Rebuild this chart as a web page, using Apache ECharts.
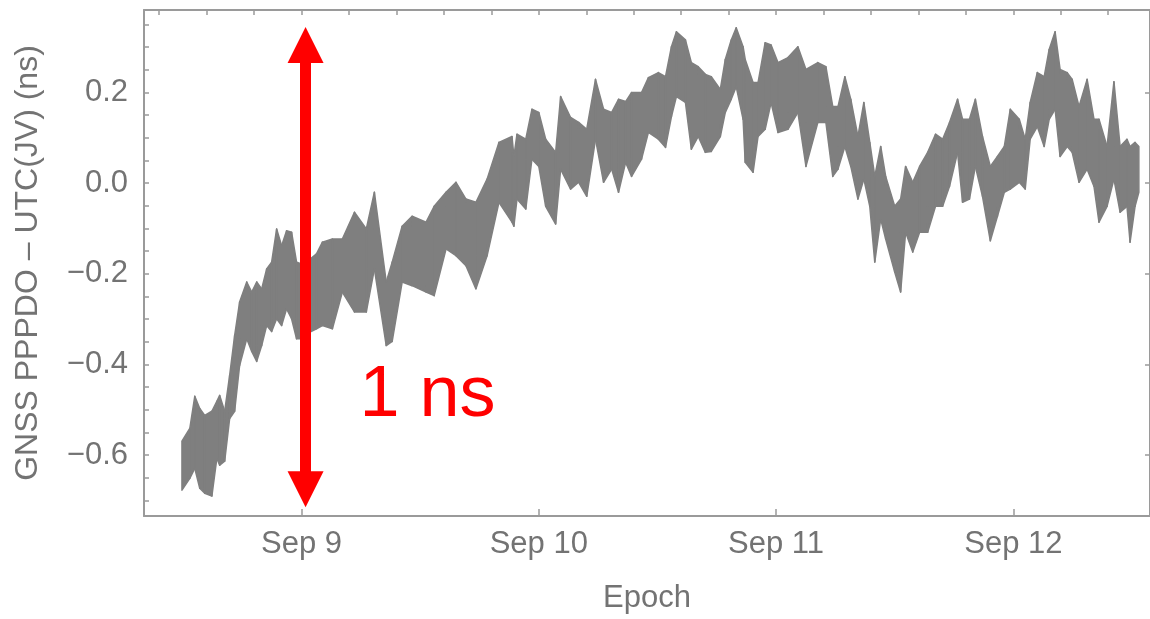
<!DOCTYPE html>
<html>
<head>
<meta charset="utf-8">
<script src="https://cdn.jsdelivr.net/npm/echarts@6/dist/echarts.min.js"></script>
<style>
  html, body { margin: 0; padding: 0; background: #fff; }
  #chart { width: 1150px; height: 619px; }
</style>
</head>
<body>
<div id="chart"></div>
<script>
// epoch in days of September, with the top and bottom of the noisy trace (ns)
const days = [
  8.496, 8.529, 8.550, 8.571, 8.592, 8.622, 8.643, 8.655, 8.676, 8.697,
  8.718, 8.739, 8.769, 8.790, 8.811, 8.832, 8.853, 8.874, 8.895, 8.916,
  8.937, 8.958, 8.979, 9.000, 9.021, 9.063, 9.088, 9.130, 9.172, 9.223,
  9.273, 9.307, 9.357, 9.382, 9.424, 9.466, 9.525, 9.559, 9.609, 9.651,
  9.693, 9.735, 9.782, 9.832, 9.887, 9.895, 9.908, 9.945, 9.971, 10.000,
  10.029, 10.071, 10.092, 10.134, 10.168, 10.202, 10.239, 10.273, 10.307, 10.336,
  10.366, 10.391, 10.433, 10.462, 10.504, 10.534, 10.559, 10.580, 10.618, 10.643,
  10.672, 10.702, 10.727, 10.765, 10.786, 10.811, 10.832, 10.861, 10.870, 10.903,
  10.924, 10.954, 10.979, 11.008, 11.050, 11.092, 11.126, 11.176, 11.210, 11.239,
  11.261, 11.290, 11.315, 11.345, 11.370, 11.395, 11.416, 11.441, 11.462, 11.500,
  11.525, 11.546, 11.576, 11.605, 11.639, 11.672, 11.702, 11.731, 11.765, 11.786,
  11.815, 11.840, 11.870, 11.903, 11.933, 11.962, 11.987, 12.025, 12.050, 12.071,
  12.101, 12.130, 12.151, 12.176, 12.197, 12.227, 12.248, 12.277, 12.311, 12.340,
  12.361, 12.395, 12.424, 12.450, 12.479, 12.492, 12.513, 12.529
]
const upper = [
  -0.569, -0.541, -0.470, -0.497, -0.512, -0.503, -0.481, -0.468, -0.503, -0.424,
  -0.336, -0.262, -0.218, -0.240, -0.218, -0.233, -0.189, -0.174, -0.101, -0.138,
  -0.105, -0.108, -0.174, -0.178, -0.174, -0.156, -0.130, -0.123, -0.123, -0.064,
  -0.101, -0.020, -0.218, -0.174, -0.095, -0.073, -0.086, -0.051, -0.020, 0.002,
  -0.035, -0.042, 0.009, 0.090, 0.103, 0.059, 0.108, 0.097, 0.163, 0.156,
  0.097, 0.068, 0.191, 0.145, 0.134, 0.119, 0.229, 0.163, 0.156, 0.185,
  0.180, 0.200, 0.200, 0.233, 0.244, 0.235, 0.301, 0.334, 0.316, 0.266,
  0.257, 0.240, 0.235, 0.207, 0.273, 0.316, 0.343, 0.301, 0.273, 0.222,
  0.222, 0.310, 0.305, 0.266, 0.277, 0.301, 0.251, 0.266, 0.257, 0.169,
  0.169, 0.235, 0.185, 0.103, 0.178, 0.090, 0.015, 0.081, 0.015, -0.051,
  -0.035, 0.037, 0.002, 0.037, 0.068, 0.108, 0.097, 0.134, 0.185, 0.141,
  0.141, 0.185, 0.103, 0.037, 0.059, 0.081, 0.163, 0.141, 0.097, 0.178,
  0.244, 0.235, 0.295, 0.334, 0.251, 0.244, 0.229, 0.169, 0.229, 0.141,
  0.141, 0.081, 0.224, 0.081, 0.097, 0.081, 0.090, 0.081
]
const lower = [
  -0.677, -0.651, -0.629, -0.673, -0.684, -0.690, -0.607, -0.622, -0.613, -0.519,
  -0.503, -0.402, -0.343, -0.371, -0.393, -0.358, -0.314, -0.327, -0.299, -0.314,
  -0.277, -0.299, -0.343, -0.343, -0.332, -0.321, -0.314, -0.321, -0.240, -0.284,
  -0.284, -0.189, -0.358, -0.349, -0.218, -0.226, -0.240, -0.248, -0.145, -0.160,
  -0.182, -0.233, -0.160, -0.042, -0.086, -0.095, -0.035, -0.057, 0.053, 0.037,
  -0.051, -0.090, 0.031, -0.013, 0.002, -0.029, 0.097, 0.002, 0.031, -0.020,
  0.046, 0.015, 0.053, 0.112, 0.097, 0.079, 0.147, 0.191, 0.178, 0.075,
  0.103, 0.068, 0.070, 0.103, 0.156, 0.185, 0.213, 0.141, 0.046, 0.024,
  0.103, 0.119, 0.178, 0.112, 0.119, 0.156, 0.037, 0.134, 0.134, 0.015,
  0.031, 0.081, 0.037, -0.035, 0.009, -0.051, -0.174, -0.079, -0.123, -0.196,
  -0.240, -0.108, -0.152, -0.108, -0.108, -0.051, -0.051, -0.007, 0.068, -0.042,
  -0.035, 0.037, -0.029, -0.127, -0.073, -0.020, -0.013, 0.002, -0.013, 0.097,
  0.125, 0.081, 0.141, 0.163, 0.059, 0.081, 0.068, 0.002, 0.031, -0.007,
  -0.086, -0.051, 0.009, -0.064, -0.051, -0.130, -0.051, -0.020
]
const xTickDays = [9, 10, 11, 12]
const yTickValues = [-0.6, -0.4, -0.2, 0.0, 0.2]

const gray = '#7f7f7f'
const axisGray = '#9a9a9a'
const textGray = '#737373'
const red = '#ff0000'
const font = 'Liberation Sans, Arial, sans-serif'

const xMin = 8.336, xMax = 12.576
const yMin = -0.734, yMax = 0.382

// small ticks: every 0.2 day on the top edge, every 0.05 ns on the left edge
const topTicks = []
for (let d = 8.4; d < 12.5; d += 0.2) topTicks.push(+d.toFixed(1))
const leftTicks = []
for (let v = -0.7; v < 0.36; v += 0.05) leftTicks.push(+v.toFixed(2))

const fmtNs = (v) => (v < 0 ? '\u2212' : '') + Math.abs(v).toFixed(1)

// one quad per step: [t, hi, lo, tNext, hiNext, loNext]
const segments = []
for (let i = 0; i < days.length - 1; i++) {
  segments.push([days[i], upper[i], lower[i], days[i + 1], upper[i + 1], lower[i + 1]])
}

const frameLine = { show: true, onZero: false, lineStyle: { color: axisGray, width: 2 } }
const tickStyle = { color: axisGray, width: 1.5 }

const chart = echarts.init(document.getElementById('chart'), null, { renderer: 'canvas' })

chart.setOption({
  animation: false,
  backgroundColor: '#ffffff',
  grid: { left: 144, top: 10, right: -3, bottom: 101 },
  xAxis: [
    {
      type: 'value',
      position: 'bottom',
      min: xMin,
      max: xMax,
      axisLine: frameLine,
      axisTick: { inside: true, length: 7, customValues: xTickDays, lineStyle: tickStyle },
      axisLabel: {
        customValues: xTickDays,
        formatter: (v) => 'Sep ' + v,
        color: textGray,
        fontSize: 31,
        fontFamily: font,
        margin: 13
      },
      splitLine: { show: false },
      name: 'Epoch',
      nameLocation: 'middle',
      nameGap: 67,
      nameTextStyle: { color: textGray, fontSize: 31, fontFamily: font }
    },
    {
      type: 'value',
      position: 'top',
      min: xMin,
      max: xMax,
      axisLine: frameLine,
      axisTick: { inside: true, length: 5, customValues: topTicks, lineStyle: tickStyle },
      axisLabel: { show: false },
      splitLine: { show: false }
    }
  ],
  yAxis: [
    {
      type: 'value',
      position: 'left',
      min: yMin,
      max: yMax,
      axisLine: frameLine,
      axisTick: { inside: true, length: 5, customValues: leftTicks, lineStyle: tickStyle },
      axisLabel: {
        customValues: yTickValues,
        formatter: fmtNs,
        color: textGray,
        fontSize: 31,
        fontFamily: font,
        margin: 16
      },
      splitLine: { show: false },
      name: 'GNSS PPPDO \u2013 UTC(JV) (ns)',
      nameLocation: 'middle',
      nameGap: 100,
      nameTextStyle: { color: textGray, fontSize: 32, fontFamily: font }
    },
    {
      type: 'value',
      position: 'right',
      min: yMin,
      max: yMax,
      axisLine: frameLine,
      axisTick: { inside: true, length: 5, customValues: yTickValues, lineStyle: tickStyle },
      axisLabel: { show: false },
      splitLine: { show: false }
    }
  ],
  series: [
    {
      name: 'trace',
      type: 'custom',
      silent: true,
      encode: { x: [0, 3], y: [1, 2, 4, 5] },
      renderItem: (params, api) => {
        const a = api.coord([api.value(0), api.value(1)])
        const b = api.coord([api.value(3), api.value(4)])
        const c = api.coord([api.value(3), api.value(5)])
        const d = api.coord([api.value(0), api.value(2)])
        return {
          type: 'polygon',
          shape: { points: [a, b, c, d] },
          style: { fill: gray, stroke: gray, lineWidth: 1.5, lineJoin: 'round' }
        }
      },
      data: segments,
      // the red "1 ns" span marker
      markLine: {
        silent: true,
        symbol: ['triangle', 'triangle'],
        symbolSize: 36,
        label: { show: false },
        lineStyle: { color: red, width: 11, type: 'solid', opacity: 1 },
        data: [[{ coord: [9.017, 0.305] }, { coord: [9.017, -0.675] }]]
      },
      markPoint: {
        silent: true,
        symbol: 'circle',
        symbolSize: 0,
        label: {
          show: true,
          formatter: '1 ns',
          position: 'inside',
          align: 'left',
          verticalAlign: 'middle',
          color: red,
          fontSize: 72,
          fontFamily: font
        },
        data: [{ coord: [9.244, -0.470] }]
      }
    }
  ]
})
</script>
</body>
</html>
